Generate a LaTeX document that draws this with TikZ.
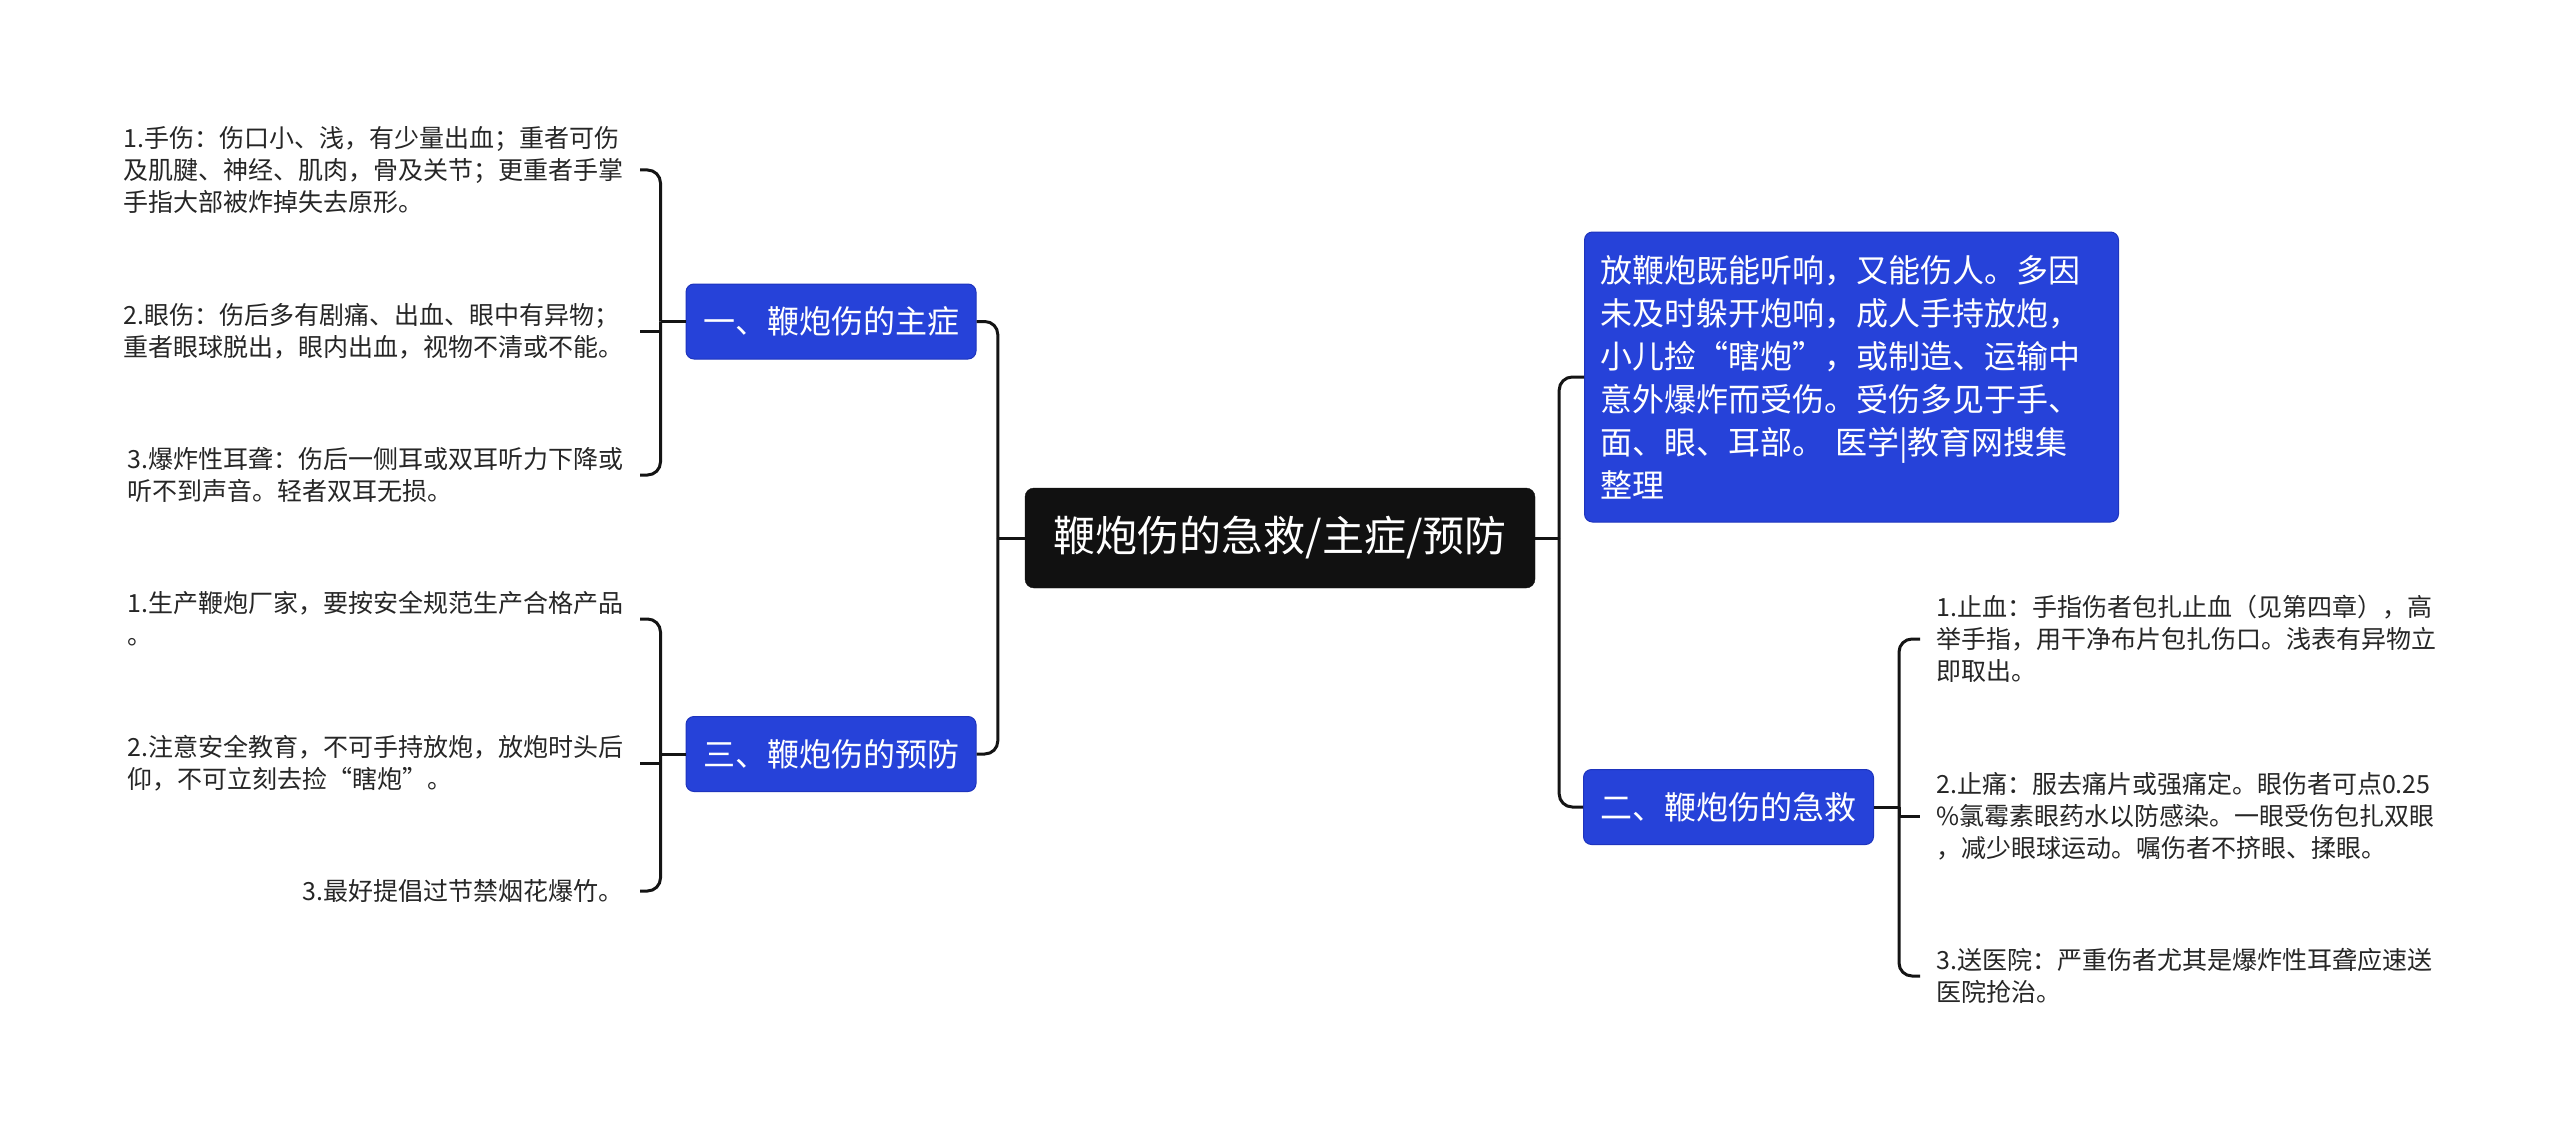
\documentclass[tikz,border=0pt]{standalone}
\usepackage{fontspec}
\newfontfamily\cjk{Noto Sans CJK SC}
\definecolor{bluec}{RGB}{38,66,217}
\definecolor{bluedk}{RGB}{30,52,190}
\definecolor{rootc}{RGB}{17,17,17}
\definecolor{linec}{RGB}{20,20,20}
\definecolor{leafc}{RGB}{38,38,38}
\begin{document}
\begin{tikzpicture}[x=1pt,y=-1pt,
  conn/.style={draw=linec, line width=3pt},
  rconn/.style={conn, rounded corners=13pt},
  leaf/.style={font=\cjk\fontsize{25}{32}\selectfont, text=leafc, align=left, inner xsep=16pt, inner ysep=0pt},
  bluebox/.style={fill=bluec, draw=bluedk, line width=1pt, rounded corners=8pt, text=white,
    font=\cjk\fontsize{32}{43}\selectfont, inner sep=0pt},
  branch/.style={bluebox, minimum width=290pt, minimum height=75pt},
  rootbox/.style={fill=rootc, draw=rootc, rounded corners=9pt, text=white,
    font=\cjk\fontsize{42}{50}\selectfont, inner sep=0pt, minimum width=510pt, minimum height=100pt}]
\useasboundingbox (0,0) rectangle (2560,1129);
\fill[white] (0,0) rectangle (2560,1129);

% root and branches
\node[rootbox] (c) at (1280,538) {鞭炮伤的急救/主症/预防};
\node[branch] (b1) at (831,321.5) {一、鞭炮伤的主症};
\node[branch] (b3) at (831,754) {三、鞭炮伤的预防};
\node[branch] (b2) at (1728.5,807) {二、鞭炮伤的急救};
\node[bluebox, anchor=west, align=left, text width=502pt, inner xsep=16pt, minimum height=290pt] (intro) at (1584,377)
  {放鞭炮既能听响，又能伤人。多因\\未及时躲开炮响，成人手持放炮，\\小儿捡“瞎炮”，或制造、运输中\\意外爆炸而受伤。受伤多见于手、\\面、眼、耳部。 医学|教育网搜集\\整理};

% left leaves of branch 1
\node[leaf, anchor=east] (l1) at (640,170) {1.手伤：伤口小、浅，有少量出血；重者可伤\\及肌腱、神经、肌肉，骨及关节；更重者手掌\\手指大部被炸掉失去原形。};
\node[leaf, anchor=east] (l2) at (640,331) {2.眼伤：伤后多有剧痛、出血、眼中有异物；\\重者眼球脱出，眼内出血，视物不清或不能。};
\node[leaf, anchor=east] (l3) at (640,475) {3.爆炸性耳聋：伤后一侧耳或双耳听力下降或\\听不到声音。轻者双耳无损。};

% left leaves of branch 3
\node[leaf, anchor=east] (p1) at (640,619) {1.生产鞭炮厂家，要按安全规范生产合格产品\\。};
\node[leaf, anchor=east] (p2) at (640,763) {2.注意安全教育，不可手持放炮，放炮时头后\\仰，不可立刻去捡“瞎炮”。};
\node[leaf, anchor=east] (p3) at (640,891) {3.最好提倡过节禁烟花爆竹。};

% right leaves of branch 2
\node[leaf, anchor=west] (r1) at (1920,639) {1.止血：手指伤者包扎止血（见第四章），高\\举手指，用干净布片包扎伤口。浅表有异物立\\即取出。};
\node[leaf, anchor=west] (r2) at (1920,816) {2.止痛：服去痛片或强痛定。眼伤者可点0.25\\\%氯霉素眼药水以防感染。一眼受伤包扎双眼\\，减少眼球运动。嘱伤者不挤眼、揉眼。};
\node[leaf, anchor=west] (r3) at (1920,976) {3.送医院：严重伤者尤其是爆炸性耳聋应速送\\医院抢治。};

% connectors: root
\draw[conn] (c.west) -- ++(-27,0) coordinate (jL);
\draw[rconn] (jL) |- (b1.east);
\draw[rconn] (jL) |- (b3.east);
\draw[conn] (c.east) -- ++(24,0) coordinate (jR);
\draw[rconn] (jR) |- (intro.west);
\draw[rconn] (jR) |- (b2.west);

% connectors: branch 1
\draw[conn] (b1.west) -- ++(-25,0) coordinate (j1);
\draw[rconn] (j1) |- (l1.east);
\draw[conn] (j1) |- (l2.east);
\draw[rconn] (j1) |- (l3.east);

% connectors: branch 3
\draw[conn] (b3.west) -- ++(-25,0) coordinate (j3);
\draw[rconn] (j3) |- (p1.east);
\draw[conn] (j3) |- (p2.east);
\draw[rconn] (j3) |- (p3.east);

% connectors: branch 2
\draw[conn] (b2.east) -- ++(25,0) coordinate (j2);
\draw[rconn] (j2) |- (r1.west);
\draw[conn] (j2) |- (r2.west);
\draw[rconn] (j2) |- (r3.west);
\end{tikzpicture}
\end{document}
